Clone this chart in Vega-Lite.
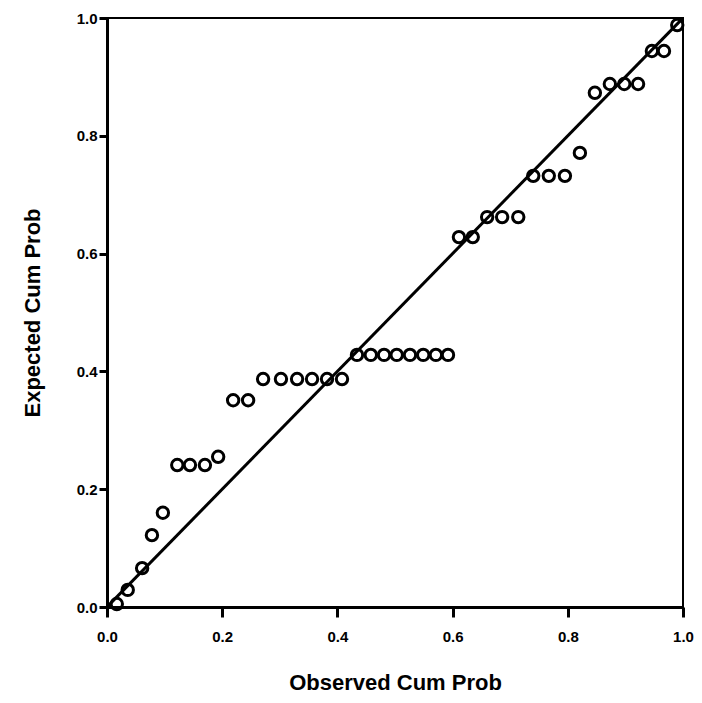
{
  "$schema": "https://vega.github.io/schema/vega-lite/v6.json",
  "width": 576,
  "height": 589,
  "autosize": "none",
  "padding": {"left": 107, "top": 18, "right": 19, "bottom": 96},
  "background": "white",
  "config": {
    "view": {"stroke": "black", "strokeWidth": 2},
    "axis": {
      "grid": false,
      "domainColor": "black",
      "domainWidth": 3,
      "tickColor": "black",
      "tickWidth": 3,
      "labelFont": "Liberation Sans",
      "labelFontWeight": "bold",
      "labelFontSize": 15,
      "labelColor": "black",
      "titleFont": "Liberation Sans",
      "titleFontWeight": "bold",
      "titleFontSize": 22,
      "titleColor": "black"
    }
  },
  "datasets": {
    "pts": [
      {"obs": 0.017, "exp": 0.005},
      {"obs": 0.036, "exp": 0.029},
      {"obs": 0.061, "exp": 0.066},
      {"obs": 0.078, "exp": 0.122},
      {"obs": 0.097, "exp": 0.160},
      {"obs": 0.122, "exp": 0.241},
      {"obs": 0.144, "exp": 0.241},
      {"obs": 0.170, "exp": 0.241},
      {"obs": 0.193, "exp": 0.255},
      {"obs": 0.219, "exp": 0.351},
      {"obs": 0.245, "exp": 0.351},
      {"obs": 0.271, "exp": 0.387},
      {"obs": 0.302, "exp": 0.387},
      {"obs": 0.330, "exp": 0.387},
      {"obs": 0.356, "exp": 0.387},
      {"obs": 0.382, "exp": 0.387},
      {"obs": 0.408, "exp": 0.387},
      {"obs": 0.434, "exp": 0.428},
      {"obs": 0.458, "exp": 0.428},
      {"obs": 0.481, "exp": 0.428},
      {"obs": 0.503, "exp": 0.428},
      {"obs": 0.526, "exp": 0.428},
      {"obs": 0.549, "exp": 0.428},
      {"obs": 0.571, "exp": 0.428},
      {"obs": 0.592, "exp": 0.428},
      {"obs": 0.611, "exp": 0.628},
      {"obs": 0.635, "exp": 0.628},
      {"obs": 0.660, "exp": 0.662},
      {"obs": 0.686, "exp": 0.662},
      {"obs": 0.714, "exp": 0.662},
      {"obs": 0.740, "exp": 0.732},
      {"obs": 0.767, "exp": 0.732},
      {"obs": 0.795, "exp": 0.732},
      {"obs": 0.821, "exp": 0.771},
      {"obs": 0.847, "exp": 0.873},
      {"obs": 0.873, "exp": 0.888},
      {"obs": 0.898, "exp": 0.888},
      {"obs": 0.922, "exp": 0.888},
      {"obs": 0.946, "exp": 0.944},
      {"obs": 0.967, "exp": 0.944},
      {"obs": 0.990, "exp": 0.988}
    ],
    "diag": [
      {"obs": 0, "exp": 0},
      {"obs": 1, "exp": 1}
    ]
  },
  "layer": [
    {
      "data": {"name": "diag"},
      "mark": {"type": "line", "color": "black", "strokeWidth": 3, "clip": true},
      "encoding": {
        "x": {"field": "obs", "type": "quantitative", "scale": {"domain": [0, 1], "nice": false, "zero": false},
              "axis": {"title": "Observed Cum Prob", "values": [0, 0.2, 0.4, 0.6, 0.8, 1.0], "format": ".1f", "tickSize": 10, "labelPadding": 12, "titlePadding": 28, "labelFlush": false}},
        "y": {"field": "exp", "type": "quantitative", "scale": {"domain": [0, 1], "nice": false, "zero": false},
              "axis": {"title": "Expected Cum Prob", "values": [0, 0.2, 0.4, 0.6, 0.8, 1.0], "format": ".1f", "tickSize": 8, "labelPadding": 2, "titlePadding": 32, "labelFlush": false}}
      }
    },
    {
      "data": {"name": "pts"},
      "mark": {"type": "point", "shape": "circle", "filled": false, "color": "black", "size": 130, "strokeWidth": 3, "opacity": 1},
      "encoding": {
        "x": {"field": "obs", "type": "quantitative"},
        "y": {"field": "exp", "type": "quantitative"}
      }
    }
  ]
}
